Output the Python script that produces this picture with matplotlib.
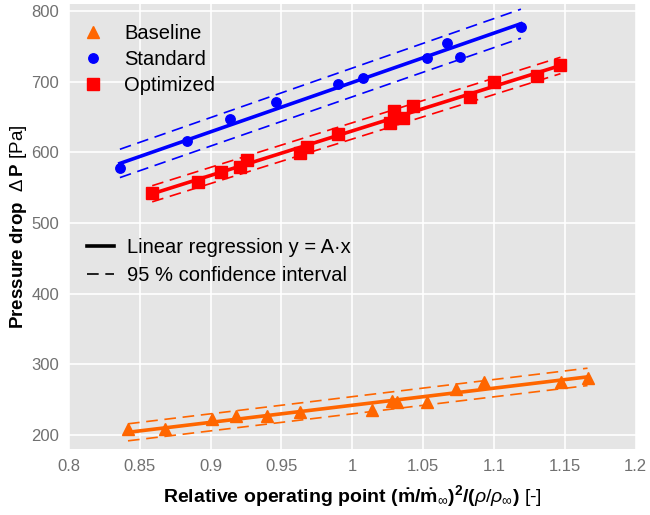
import matplotlib.pyplot as plt
import numpy as np

plt.rcParams['font.family'] = ['Liberation Sans', 'DejaVu Sans']
plt.rcParams['mathtext.fontset'] = 'custom'
plt.rcParams['mathtext.rm'] = 'Liberation Sans'
plt.rcParams['mathtext.it'] = 'Liberation Sans:italic'
plt.rcParams['mathtext.bf'] = 'Liberation Sans:bold'

# measured points
base_x = [0.8417, 0.8677, 0.9008, 0.9177, 0.9398, 0.9633, 1.014, 1.0279, 1.0315,
          1.0526, 1.0734, 1.093, 1.147, 1.166]
base_y = [208.5, 208.5, 223, 227, 227, 233, 236, 248, 246, 247, 265, 275, 275, 280]

std_x = [0.836, 0.8835, 0.914, 0.946, 0.9896, 1.0076, 1.0528, 1.0667, 1.0763, 1.119]
std_y = [578, 616, 648, 671, 697, 705, 733.5, 755, 735, 778]

opt_x = [0.8588, 0.891, 0.907, 0.921, 0.9258, 0.963, 0.968, 0.990, 1.0265, 1.0293,
         1.0359, 1.043, 1.0829, 1.100, 1.130, 1.1469]
opt_y = [542, 558, 572, 580, 590, 599.5, 607.6, 626.4, 642, 658.5, 648.6, 665.6,
         678, 700, 708, 723.6]

# two-sided 95 % t quantiles by degrees of freedom
t95 = {9: 2.262, 13: 2.160, 15: 2.131}


def fit_through_origin(x, y):
    x = np.asarray(x)
    y = np.asarray(y)
    A = np.sum(x * y) / np.sum(x ** 2)
    dof = len(x) - 1
    s = np.sqrt(np.sum((y - A * x) ** 2) / dof)
    xs = np.linspace(x.min(), x.max(), 50)
    half = t95[dof] * s * np.sqrt(1 + xs ** 2 / np.sum(x ** 2))
    return xs, A * xs, half


DASH = (0, (7, 4))

fig = plt.figure(figsize=(6.5, 5.15), dpi=100)
ax = fig.add_axes([0.106, 0.128, 0.872, 0.864])
ax.set_facecolor('#E5E5E5')
for sp in ax.spines.values():
    sp.set_visible(False)
ax.grid(True, color='white', linewidth=1.2)
ax.set_axisbelow(True)

series = [
    ('Baseline', base_x, base_y, '#FF6600', '^', 8.5),
    ('Standard', std_x, std_y, '#0000FF', 'o', 6.8),
    ('Optimized', opt_x, opt_y, '#FF0000', 's', 8),
]

handles = []
for name, x, y, c, m, ms in series:
    xs, yfit, half = fit_through_origin(x, y)
    ax.plot(xs, yfit, color=c, linewidth=2.6, zorder=2)
    ax.plot(xs, yfit + half, color=c, linewidth=1.2, linestyle=DASH, zorder=2)
    ax.plot(xs, yfit - half, color=c, linewidth=1.2, linestyle=DASH, zorder=2)
    h, = ax.plot(x, y, linestyle='none', marker=m, markersize=ms, color=c, label=name, zorder=3)
    handles.append(h)

leg1 = ax.legend(handles=handles, loc='upper left', frameon=False, fontsize=14.5,
                 bbox_to_anchor=(-0.007, 0.995), handlelength=1.0, handletextpad=1.05,
                 labelspacing=0.33, borderaxespad=0.5)
ax.add_artist(leg1)

l1, = ax.plot([], [], color='black', linewidth=2.6, label='Linear regression y = A·x')
l2, = ax.plot([], [], color='black', linewidth=1.2, linestyle=DASH,
              label='95 % confidence interval')
ax.legend(handles=[l1, l2], loc='upper left', bbox_to_anchor=(0.0, 0.514), frameon=False,
          fontsize=14.5, handlelength=1.35, handletextpad=0.65, labelspacing=0.4,
          borderaxespad=0.5)

ax.set_xlim(0.8, 1.2)
ax.set_ylim(180, 810)
ax.set_xticks(np.arange(0.8, 1.201, 0.05))
ax.set_xticklabels(['0.8', '0.85', '0.9', '0.95', '1', '1.05', '1.1', '1.15', '1.2'])
ax.set_yticks(np.arange(200, 801, 100))
ax.tick_params(length=0, labelsize=12, labelcolor='#707070', pad=7)

ax.set_xlabel(r'$\mathbf{Relative\ operating\ point\ (\dot{m}/\dot{m}}_{\infty}\mathbf{)}^{\mathbf{2}}'
              r'\mathbf{/(}\rho/\rho_{\infty}\mathbf{)}$ [-]', fontsize=14, labelpad=7)
ax.set_ylabel(r'$\mathbf{Pressure\ drop}\ \ \Delta\,\mathbf{P}$ [Pa]', fontsize=13.5,
              labelpad=2)

fig.savefig('out.png', dpi=100)
